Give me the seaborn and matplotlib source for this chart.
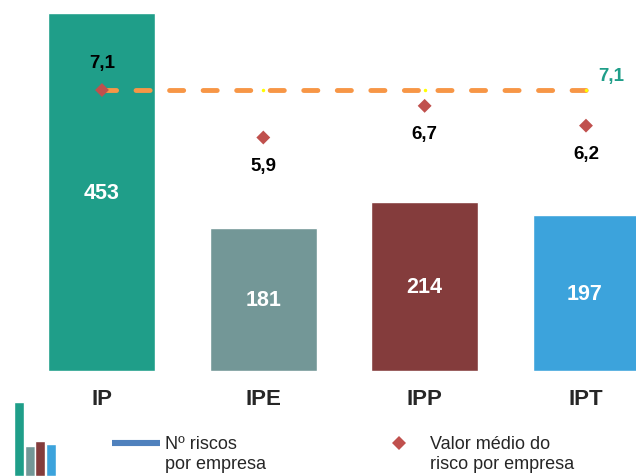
import matplotlib
matplotlib.use("Agg")
import matplotlib.pyplot as plt
from matplotlib.lines import Line2D
import numpy as np
import pandas as pd
import seaborn as sns

categories = ["IP", "IPE", "IPP", "IPT"]
n_risks = [453, 181, 214, 197]
mean_risk = [7.1, 5.9, 6.7, 6.2]
avg_line = [7.1, 7.1, 7.1, 7.1]
avg_label = "7,1"
bar_colors = ["#1f9e89", "#739797", "#843c3c", "#3ca3dc"]
legend_labels = ["Nº riscos\npor empresa", "Valor médio do\nrisco por empresa"]

sns.set_theme(style="white")
plt.rcParams["font.family"] = ["Liberation Sans", "DejaVu Sans"]

df = pd.DataFrame({"cat": categories, "n": n_risks, "mean": mean_risk})
pos = np.arange(len(categories))

fig = plt.figure(figsize=(6.36, 4.77), dpi=100)
ax = fig.add_axes([0, 1 - 372 / 477, 1, 372 / 477])

sns.barplot(data=df, x="cat", y="n", hue="cat", palette=bar_colors, width=0.663,
            saturation=1, legend=False, ax=ax)
for cont in ax.containers:
    ax.bar_label(cont, label_type="center", color="white", fontsize=15.5, fontweight="bold")

ax.set_ylim(0, 471)
ax.set_xlim(-0.632, 3.31)
ax.set_xlabel("")
ax.set_ylabel("")
ax.set_yticks([])
ax.tick_params(axis="x", length=0, pad=12, labelsize=16)
for lab in ax.get_xticklabels():
    lab.set_fontweight("bold")
sns.despine(ax=ax, left=True, bottom=True)

# secondary axis: mean risk value
ax2 = ax.twinx()
ax2.set_ylim(0, 9.4)
sns.lineplot(x=pos, y=avg_line, color="#f79646", linewidth=3.5, ax=ax2,
             dashes=False, linestyle=(0, (2.9, 4.0)), dash_capstyle="round",
             marker="o", markersize=2.5, markerfacecolor="#ffff00",
             markeredgewidth=0, zorder=2)
sns.scatterplot(x=pos, y=mean_risk, marker="D", s=50, color="#c0504d",
                edgecolor="none", ax=ax2, zorder=3)
for i, v in enumerate(mean_risk):
    dy = 20 if i == 0 else -20
    ax2.annotate(f"{v:.1f}".replace(".", ","), (pos[i], v), xytext=(0, dy),
                 textcoords="offset points", ha="center", va="center",
                 fontsize=13.5, fontweight="bold", color="black")
ax2.annotate(avg_label, (pos[-1], avg_line[-1]), xytext=(18, 10.5),
             textcoords="offset points", ha="center", va="center",
             fontsize=13.5, fontweight="bold", color="#1f9e89")
ax2.set_yticks([])
ax2.set_ylabel("")
sns.despine(ax=ax2, left=True, bottom=True, right=True)

# small legend icon
axi = fig.add_axes([14 / 636, 0, 42 / 636, 74 / 477])
sns.barplot(x=pos, y=n_risks, hue=pos, palette=bar_colors, width=0.95,
            saturation=1, legend=False, ax=axi)
axi.set_ylim(0, 453)
axi.set_xlim(-0.5, 3.5)
axi.axis("off")

# legends
h1 = Line2D([], [], color="#4f81bd", linewidth=4.4, solid_capstyle="butt")
leg1 = fig.legend(handles=[h1], labels=[legend_labels[0]], loc="upper left",
                  bbox_to_anchor=(112 / 636, 1 - 436 / 477), frameon=False,
                  borderpad=0, borderaxespad=0, fontsize=13, handlelength=2.65,
                  handletextpad=0.3)
h2 = Line2D([], [], color="none", marker="D", markersize=6.8,
            markerfacecolor="#c0504d", markeredgewidth=0)
leg2 = fig.legend(handles=[h2], labels=[legend_labels[1]], loc="upper left",
                  bbox_to_anchor=(381 / 636, 1 - 436 / 477), frameon=False,
                  borderpad=0, borderaxespad=0, fontsize=13, handlelength=2.0,
                  handletextpad=0.7)
for leg in (leg1, leg2):
    hl = leg.legend_handles[0]
    hl.set_ydata(np.asarray(hl.get_ydata()) + 7.5)

fig.savefig("out.png", dpi=100)
